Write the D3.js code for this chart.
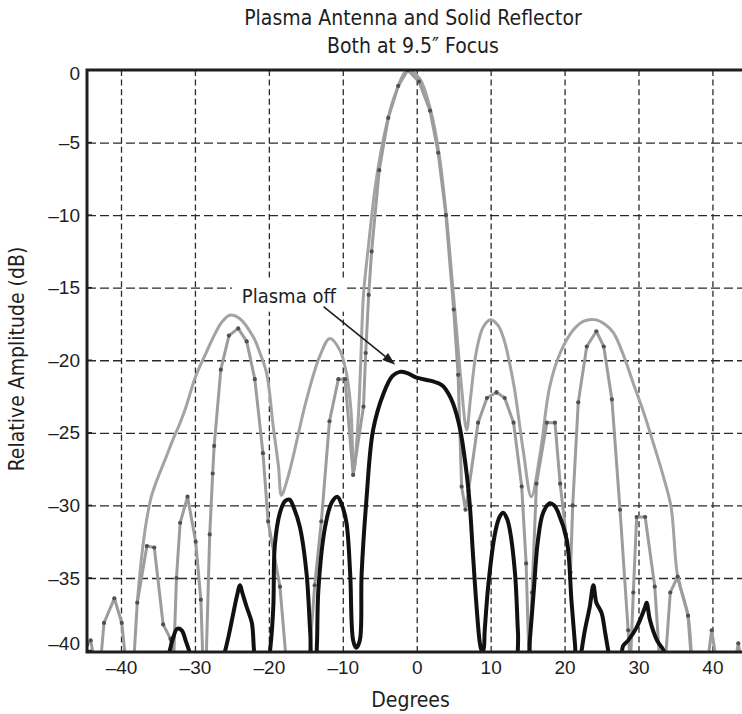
<!DOCTYPE html>
<html>
<head>
<meta charset="utf-8">
<script src="https://cdn.jsdelivr.net/npm/d3@7"></script>
<style>
  html, body { margin: 0; padding: 0; background: #fff; }
  svg { display: block; font-family: "Liberation Sans Narrow", "DejaVu Sans Condensed", "Arial Narrow", sans-serif; }
</style>
</head>
<body>
<svg id="chart" width="742" height="714"></svg>
<script>
// ---- chart text ----
const titleLines = ["Plasma Antenna and Solid Reflector", "Both at 9.5\u2033 Focus"];
const xLabel = "Degrees";
const yLabel = "Relative Amplitude (dB)";
const xTicks = [-40, -30, -20, -10, 0, 10, 20, 30, 40];
const yTicks = [0, -5, -10, -15, -20, -25, -30, -35, -40];
const xDomain = [-44.6, 44.0];
const yDomain = [-40.1, 0];

// ---- measured patterns: [degrees, relative amplitude dB]; -41 = below the -40 dB floor ----
const reflector = [
  [-37.8,-36.7],[-37.2,-33.5],[-36.6,-31.2],[-35.9,-29.4],[-35.1,-28.2],[-34.0,-26.8],[-33.0,-25.5],
  [-32.0,-24.3],[-31.2,-23.2],[-29.9,-21.1],[-28.5,-19.5],[-27.5,-18.4],[-26.4,-17.4],[-25.3,-16.9],
  [-24.0,-17.1],[-22.1,-18.4],[-21.2,-19.5],[-20.3,-20.9],[-19.4,-24.6],[-18.7,-27.3],[-18.3,-29.3],
  [-17.5,-28.2],[-16.7,-26.6],[-14.9,-22.7],[-13.1,-19.7],[-11.75,-18.5],[-10.4,-19.3],[-9.5,-20.9],
  [-8.9,-23.4],[-8.5,-27.6],[-7.9,-23.9],[-7.6,-20.5],[-7.2,-15.5],[-6.5,-12.0],[-5.6,-8.0],
  [-4.4,-4.5],[-3.0,-1.8],[-1.2,0.0],[0.4,-0.6],[1.9,-2.8],[3.0,-5.7],[4.0,-10.0],[4.8,-14.5],
  [5.4,-18.0],[6.0,-21.5],[6.75,-24.8],[7.3,-22.5],[8.1,-19.3],[9.0,-17.7],[10.0,-17.2],[11.0,-17.6],
  [11.7,-18.4],[13.1,-21.6],[14.4,-26.2],[15.5,-29.4],[16.7,-26.4],[18.0,-21.8],[19.4,-19.5],
  [21.2,-17.9],[22.6,-17.3],[24.1,-17.2],[25.4,-17.5],[26.6,-18.1],[28.0,-19.7],[29.3,-21.6],
  [30.7,-23.6],[32.0,-25.7],[33.3,-27.9],[34.4,-30.1],[35.3,-34.9],[36.7,-37.6],[37.2,-41]
];

const plasmaOn = [
  [-44.6,-39.6],[-44.1,-39.3],[-43.5,-41],[-42.8,-41],[-42.3,-38.1],[-40.9,-36.4],[-39.9,-38.1],
  [-39.3,-41],[-38.3,-41],[-37.8,-36.7],[-36.5,-32.8],[-35.5,-32.9],[-34.3,-38.2],[-33.3,-39.2],
  [-32.9,-41],[-32.5,-35.0],[-32.0,-31.2],[-31.0,-29.4],[-29.9,-32.5],[-29.2,-36.5],[-28.9,-41],
  [-28.5,-41],[-28.0,-32.0],[-27.6,-27.8],[-27.4,-25.9],[-26.5,-20.65],[-25.4,-18.3],[-24.15,-17.8],
  [-23.0,-18.7],[-21.9,-21.3],[-20.8,-26.4],[-20.1,-31.1],[-18.5,-35.6],[-17.6,-41],[-14.6,-41],
  [-13.8,-35.5],[-12.9,-31.1],[-11.8,-24.2],[-10.6,-21.3],[-9.7,-21.3],[-8.6,-27.9],[-7.2,-23.2],
  [-6.9,-19.5],[-6.5,-15.5],[-6.1,-12.5],[-5.07,-6.9],[-3.85,-3.3],[-2.5,-1.1],[-1.2,0.0],[0.3,-0.8],
  [1.8,-2.8],[2.9,-5.7],[3.95,-10.0],[5.0,-16.5],[5.6,-21.0],[6.07,-28.7],[6.6,-30.3],[7.0,-29.0],
  [8.3,-24.3],[9.5,-22.6],[10.8,-22.2],[11.9,-22.6],[13.1,-24.3],[14.2,-28.7],[14.8,-34.0],
  [15.2,-41],[15.6,-36.0],[16.2,-28.5],[17.6,-24.3],[18.7,-24.3],[19.4,-28.5],[20.2,-32.0],
  [20.8,-34.6],[21.1,-30.0],[21.85,-22.9],[23.0,-19.05],[24.3,-18.0],[25.3,-19.05],[26.4,-22.7],
  [27.5,-30.3],[28.6,-38.6],[28.9,-41],[29.3,-36.0],[29.75,-30.8],[30.9,-30.8],[32.2,-35.6],
  [32.9,-41],[33.6,-41],[34.3,-36.0],[35.3,-34.9],[36.7,-37.6],[37.2,-41],[39.3,-41],[39.9,-38.6],
  [40.6,-41],[43.0,-41],[43.5,-39.5],[44.0,-41]
];

const plasmaOff = [
  [-34.0,-41],[-33.4,-40.0],[-33.0,-39.2],[-32.4,-38.5],[-31.8,-38.6],[-31.2,-39.4],[-30.8,-40.0],[-30.4,-41],
  [-26.4,-41],[-25.9,-40.0],[-25.4,-38.9],[-24.8,-37.4],[-24.3,-36.2],[-23.9,-35.5],[-23.6,-36.0],
  [-23.0,-37.0],[-22.3,-38.1],[-22.0,-40.0],[-21.7,-41],
  [-20.2,-41],[-19.8,-39.8],[-19.4,-37.0],[-19.2,-32.8],[-18.5,-30.5],[-17.8,-29.7],[-17.2,-29.6],
  [-16.6,-30.2],[-15.8,-31.5],[-14.9,-34.7],[-14.4,-38.8],[-14.1,-41],
  [-13.7,-41],[-13.5,-39.6],[-13.3,-35.8],[-12.4,-31.5],[-11.5,-29.8],[-10.75,-29.4],[-10.1,-30.0],
  [-9.5,-31.2],[-9.0,-34.7],[-8.6,-39.3],[-8.2,-39.8],[-7.7,-39.3],[-7.45,-34.7],[-6.8,-29.6],
  [-5.9,-24.8],[-4.5,-22.3],[-3.3,-21.1],[-2.3,-20.8],[-1.2,-20.9],[0.0,-21.2],[1.8,-21.4],
  [3.0,-21.6],[3.6,-21.8],[4.3,-22.3],[4.9,-22.95],[5.85,-24.7],[6.75,-27.8],[7.2,-30.1],
  [7.6,-33.3],[8.1,-37.0],[8.55,-39.5],[8.8,-40.0],[9.0,-40.0],[9.2,-38.6],[9.7,-35.4],[10.6,-31.9],
  [11.2,-30.8],[11.7,-30.5],[12.2,-30.9],[12.6,-31.7],[13.3,-34.7],[13.7,-38.8],[13.95,-41],
  [15.0,-41],[15.3,-39.3],[15.8,-36.1],[16.4,-32.4],[17.1,-30.5],[18.0,-29.85],[18.6,-30.0],
  [19.15,-30.5],[20.3,-32.4],[20.95,-36.7],[21.4,-39.5],[21.7,-41],
  [22.0,-41],[22.3,-40.0],[22.75,-38.6],[23.4,-37.0],[23.9,-35.5],[24.3,-36.7],[25.0,-37.4],
  [25.5,-38.8],[25.9,-40.0],[26.2,-41],
  [27.5,-41],[27.9,-39.7],[28.6,-39.3],[29.75,-38.4],[30.9,-37.0],[31.1,-36.7],[31.55,-37.9],
  [32.5,-39.3],[33.4,-40.0],[33.8,-41]
];

// callout for the plasma-off trace
const calloutText = "Plasma off";
const calloutAt = [-17.3, -15.55];
const arrowFrom = [-12.6, -16.3];
const arrowTo = [-2.9, -20.3];

// ---- layout ----
const svg = d3.select("#chart");
const plot = { left: 87, right: 742, top: 70, bottom: 652 };

const x = d3.scaleLinear().domain(xDomain).range([plot.left, plot.right]);
const y = d3.scaleLinear().domain(yDomain).range([plot.bottom, plot.top]);

const ink = "#1e1e1e";
const minus = v => (v < 0 ? "\u2013" + Math.abs(v) : String(v));

// clip for traces
svg.append("defs").append("clipPath").attr("id", "plotClip")
  .append("rect")
  .attr("x", plot.left).attr("y", plot.top)
  .attr("width", plot.right - plot.left).attr("height", plot.bottom - plot.top);

// dashed grid
const gx = svg.append("g")
  .attr("transform", `translate(0,${plot.bottom})`)
  .call(d3.axisBottom(x).tickValues(xTicks).tickSize(-(plot.bottom - plot.top)).tickFormat(""));
gx.select(".domain").remove();
gx.selectAll(".tick line")
  .attr("stroke", "#2a2a2a").attr("stroke-width", 1.3).attr("stroke-dasharray", "6,3.6");

const gy = svg.append("g")
  .attr("transform", `translate(${plot.left},0)`)
  .call(d3.axisLeft(y).tickValues(yTicks.filter(v => v !== 0 && v !== -40))
        .tickSize(-(plot.right - plot.left)).tickFormat(""));
gy.select(".domain").remove();
gy.selectAll(".tick line")
  .attr("stroke", "#2a2a2a").attr("stroke-width", 1.3).attr("stroke-dasharray", "9,4");

// traces
const smooth = d3.line().x(d => x(d[0])).y(d => y(d[1])).curve(d3.curveCatmullRom.alpha(0.5));
const straight = d3.line().x(d => x(d[0])).y(d => y(d[1]));

const traces = svg.append("g").attr("clip-path", "url(#plotClip)");

traces.append("path").datum(reflector)
  .attr("d", smooth).attr("fill", "none")
  .attr("stroke", "#a3a3a3").attr("stroke-width", 3).attr("stroke-linejoin", "round");

traces.append("path").datum(plasmaOn)
  .attr("d", straight).attr("fill", "none")
  .attr("stroke", "#9c9c9c").attr("stroke-width", 3).attr("stroke-linejoin", "round");

traces.append("g").selectAll("circle")
  .data(plasmaOn.filter(d => d[1] > -39.8))
  .join("circle")
  .attr("cx", d => x(d[0])).attr("cy", d => y(d[1])).attr("r", 2.1)
  .attr("fill", "#505050");

traces.append("path").datum(plasmaOff)
  .attr("d", smooth).attr("fill", "none")
  .attr("stroke", "#111").attr("stroke-width", 4).attr("stroke-linejoin", "round");

// frame: left, top, bottom
svg.append("path")
  .attr("d", `M${plot.right + 2},${plot.top} H${plot.left} V${plot.bottom} H${plot.right + 2}`)
  .attr("fill", "none").attr("stroke", ink).attr("stroke-width", 3);

// small inner ticks on the left edge
svg.append("g").selectAll("line")
  .data(yTicks)
  .join("line")
  .attr("x1", plot.left).attr("x2", plot.left + 5)
  .attr("y1", d => y(d)).attr("y2", d => y(d))
  .attr("stroke", ink).attr("stroke-width", 1.5);

// tick labels (end labels nudged inside the frame's height)
const yAxis = svg.append("g")
  .attr("transform", `translate(${plot.left - 5},0)`)
  .call(d3.axisLeft(y).tickValues(yTicks).tickSize(0).tickPadding(2).tickFormat(minus));
yAxis.select(".domain").remove();
yAxis.selectAll("text")
  .attr("font-size", 19).attr("fill", ink)
  .style("font-family", "inherit")
  .attr("y", d => (d === 0 ? 3 : d === -40 ? -7 : 0));

const xAxis = svg.append("g")
  .attr("transform", `translate(0,${plot.bottom + 5})`)
  .call(d3.axisBottom(x).tickValues(xTicks).tickSize(0).tickPadding(3).tickFormat(minus));
xAxis.select(".domain").remove();
xAxis.selectAll("text")
  .attr("font-size", 19).attr("fill", ink)
  .style("font-family", "inherit");

// titles
svg.append("g").selectAll("text")
  .data(titleLines)
  .join("text")
  .attr("x", 413).attr("y", (d, i) => 25 + i * 28)
  .attr("text-anchor", "middle").attr("font-size", 21).attr("fill", ink)
  .text(d => d);

svg.append("text")
  .attr("x", (plot.left + plot.right) / 2 - 4).attr("y", 707)
  .attr("text-anchor", "middle").attr("font-size", 21).attr("fill", ink)
  .text(xLabel);

svg.append("text")
  .attr("transform", `translate(24,${(plot.top + plot.bottom) / 2 - 2}) rotate(-90)`)
  .attr("text-anchor", "middle").attr("font-size", 21).attr("fill", ink)
  .text(yLabel);

// callout with arrow
const cx = x(calloutAt[0]), cy = y(calloutAt[1]);
const label = svg.append("text")
  .attr("x", cx).attr("y", cy + 7)
  .attr("text-anchor", "middle").attr("font-size", 20).attr("fill", ink)
  .text(calloutText);
const bb = label.node().getBBox();
svg.insert("rect", () => label.node())
  .attr("x", bb.x - 10).attr("y", bb.y - 4)
  .attr("width", bb.width + 20).attr("height", bb.height + 8)
  .attr("fill", "#fff");

const ax0 = x(arrowFrom[0]), ay0 = y(arrowFrom[1]);
const ax1 = x(arrowTo[0]), ay1 = y(arrowTo[1]);
const ang = Math.atan2(ay1 - ay0, ax1 - ax0);
const headLen = 13, headHalf = 4.5;
const bx = ax1 - headLen * Math.cos(ang), by = ay1 - headLen * Math.sin(ang);
svg.append("line")
  .attr("x1", ax0).attr("y1", ay0).attr("x2", bx).attr("y2", by)
  .attr("stroke", ink).attr("stroke-width", 1.6);
svg.append("path")
  .attr("d", `M${ax1},${ay1} L${bx - headHalf * Math.sin(ang)},${by + headHalf * Math.cos(ang)} L${bx + headHalf * Math.sin(ang)},${by - headHalf * Math.cos(ang)} Z`)
  .attr("fill", ink);
</script>
</body>
</html>
